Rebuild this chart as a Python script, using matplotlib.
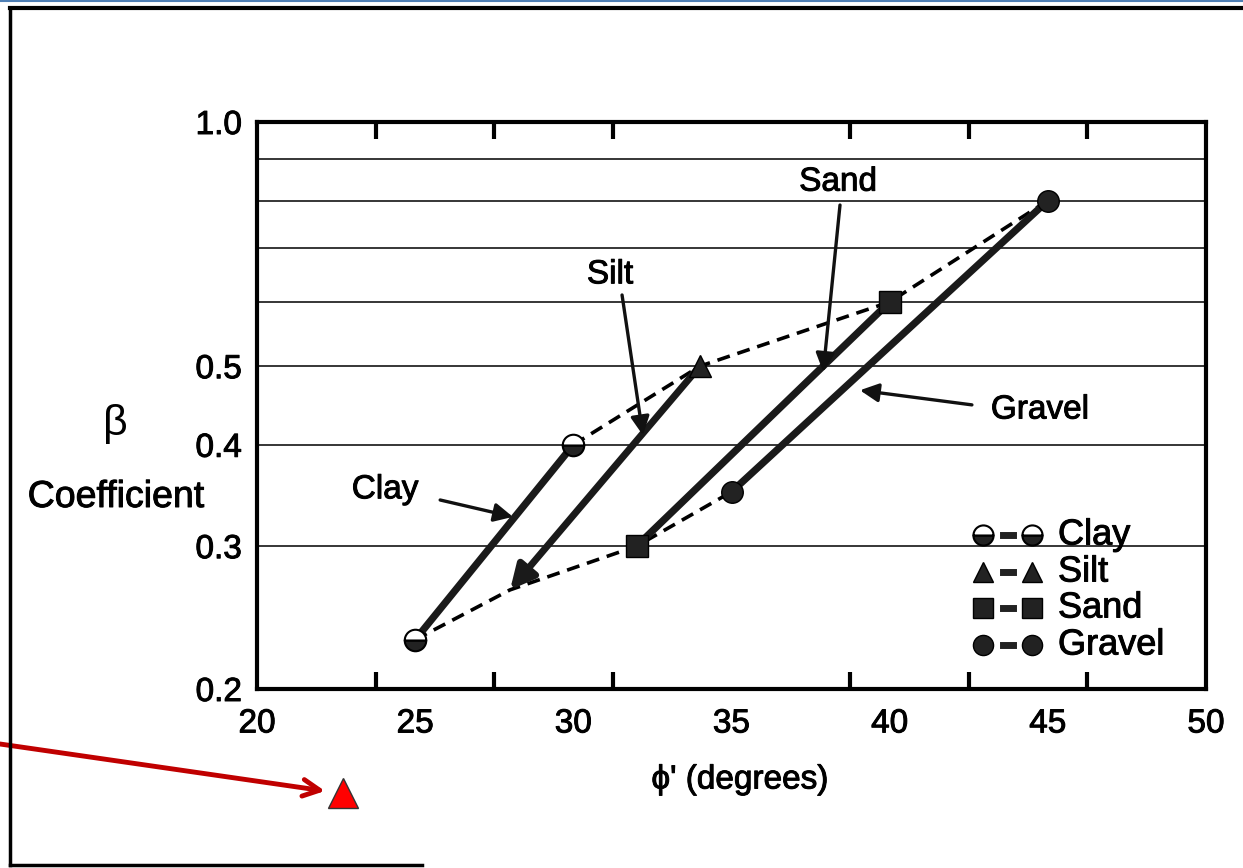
import matplotlib
matplotlib.use("Agg")
import matplotlib.pyplot as plt
from matplotlib.lines import Line2D
import matplotlib.patheffects as pe

plt.rcParams['font.family'] = ['Liberation Sans', 'DejaVu Sans']

# ---- data ----
soils = ["Clay", "Silt", "Sand", "Gravel"]
phi_low = [25, 28, 32, 35]
phi_high = [30, 34, 40, 45]
beta_low = [0.23, 0.265, 0.30, 0.35]
beta_high = [0.40, 0.50, 0.60, 0.80]
markers = ["o", "^", "s", "o"]
x_ticklabels = [20, 25, 30, 35, 40, 45, 50]
x_minor = [23.75, 27.5, 31.25, 35, 38.75, 42.5, 46.25]
y_ticks = [0.2, 0.3, 0.4, 0.5, 1.0]
y_ticklabels = ["0.2", "0.3", "0.4", "0.5", "1.0"]
grid_levels = [0.3, 0.4, 0.5, 0.6, 0.7, 0.8, 0.9]

# annotation labels: text, text position, arrow tail, arrow head
label_text = ["Clay", "Silt", "Sand", "Gravel"]
label_pos = [(24.05, 0.352), (31.16, 0.648), (38.37, 0.843), (44.75, 0.4415)]
arrow_tail = [(25.79, 0.342), (31.54, 0.612), (38.43, 0.79), (42.6, 0.448)]
arrow_head = [(28.09, 0.326), (32.2, 0.411), (37.9, 0.492), (39.06, 0.467)]

W, H = 1243, 868
bold = [pe.withStroke(linewidth=0.7, foreground='black')]

fig = plt.figure(figsize=(W / 100, H / 100), dpi=100)
ax = fig.add_axes([257 / W, 1 - 689 / H, (1206 - 257) / W, (689 - 122) / H])
ax.set_yscale('log')
ax.set_xlim(20, 50)
ax.set_ylim(0.2, 1.0)

for g in grid_levels:
    ax.axhline(g, color='black', lw=1.1, zorder=1)

# dashed envelopes
dash = (3.6, 2.2)
ax.plot(phi_low, beta_low, color='black', lw=2.6, linestyle=(0, dash), zorder=2)
ax.plot(phi_high, beta_high, color='black', lw=2.6, linestyle=(0, dash), zorder=2)

# solid lines
for i, s in enumerate(soils):
    if s == "Silt":
        ax.annotate('', xy=(phi_low[i], beta_low[i]), xytext=(phi_high[i], beta_high[i]),
                    arrowprops=dict(arrowstyle='-|>', lw=5, color='#1a1a1a',
                                    mutation_scale=36, shrinkA=0, shrinkB=0), zorder=3)
    else:
        ax.plot([phi_low[i], phi_high[i]], [beta_low[i], beta_high[i]],
                color='#1a1a1a', lw=5.2, solid_capstyle='butt', zorder=3)

# markers
for i, s in enumerate(soils):
    kw = dict(color='black', markersize=15.5, zorder=5, linestyle='none')
    if s == "Clay":
        kw.update(fillstyle='bottom', markerfacecolor='#222222', markerfacecoloralt='white',
                  markeredgecolor='black', markeredgewidth=1.5)
        ax.plot([phi_low[i], phi_high[i]], [beta_low[i], beta_high[i]], marker='o', **kw)
    elif s == "Silt":
        ax.plot([phi_high[i]], [beta_high[i]], marker='^', markerfacecolor='#222222',
                markeredgecolor='black', **kw)
    else:
        ax.plot([phi_low[i], phi_high[i]], [beta_low[i], beta_high[i]], marker=markers[i],
                markerfacecolor='#222222', markeredgecolor='black', **kw)

# text labels with arrows
for t, p, a, h in zip(label_text, label_pos, arrow_tail, arrow_head):
    ax.text(p[0], p[1], t, fontsize=24, ha='center', va='center', zorder=6,
            path_effects=bold)
    ax.annotate('', xy=h, xytext=a,
                arrowprops=dict(arrowstyle='-|>', lw=2.4, color='#111111',
                                mutation_scale=28, shrinkA=0, shrinkB=0), zorder=6)

# axes styling
for sp in ax.spines.values():
    sp.set_linewidth(3)
ax.set_yticks(y_ticks)
ax.set_yticklabels(y_ticklabels)
ax.yaxis.set_minor_locator(matplotlib.ticker.NullLocator())
ax.tick_params(axis='y', which='major', length=0, pad=11, labelsize=24)
ax.set_xticks(x_ticklabels)
ax.set_xticklabels([str(v) for v in x_ticklabels])
ax.set_xticks(x_minor, minor=True)
ax.tick_params(axis='x', which='major', length=0, pad=14, labelsize=24)
ax.tick_params(axis='x', which='minor', direction='in', length=12, width=3,
               top=True, bottom=True)
for lab in ax.get_xticklabels() + ax.get_yticklabels():
    lab.set_clip_on(False)
    lab.set_path_effects(bold)

# legend (drawn by hand, in figure pixels)
leg_rows = [535, 572, 608, 645]
for i, s in enumerate(soils):
    yy = 1 - leg_rows[i] / H
    mk = dict(marker=markers[i], markersize=14.5, markerfacecolor='#222222',
              markeredgecolor='black', linestyle='none', transform=fig.transFigure)
    if s == "Clay":
        mk.update(fillstyle='bottom', markerfacecoloralt='white', markeredgewidth=1.5)
    fig.add_artist(Line2D([983 / W, 1032 / W], [yy, yy], **mk))
    fig.add_artist(Line2D([1003 / W, 1013 / W], [yy, yy], color='#222222', lw=5,
                          transform=fig.transFigure))
    fig.text(1058 / W, yy, s, fontsize=26, ha='left', va='center', path_effects=bold)

# axis labels
fig.text(115 / W, 1 - 424 / H, "β", fontsize=31, ha='center', va='center')
fig.text(116 / W, 1 - 497 / H, "Coefficient", fontsize=27, ha='center', va='center',
         path_effects=bold)
fig.text(740 / W, 1 - 780 / H, "ϕ' (degrees)", fontsize=24, ha='center', va='center',
         path_effects=bold)

# page frame
fig.add_artist(Line2D([0, 1], [1 - 1 / H, 1 - 1 / H], transform=fig.transFigure,
                      color='#4f7fb5', lw=1.5))
fig.add_artist(Line2D([10 / W, 1], [1 - 8 / H, 1 - 8 / H], transform=fig.transFigure,
                      color='black', lw=3))
fig.add_artist(Line2D([10 / W, 10 / W], [1 - 8 / H, 1 - 865 / H], transform=fig.transFigure,
                      color='black', lw=2.5))
fig.add_artist(Line2D([10 / W, 422 / W], [1 - 865 / H, 1 - 865 / H], transform=fig.transFigure,
                      color='black', lw=2.5))

# red pointer arrow and triangle
ax.annotate('', xy=(325, H - 791), xytext=(0, H - 744), xycoords='figure pixels',
            textcoords='figure pixels',
            arrowprops=dict(arrowstyle='->', lw=3.5, color='#c00000',
                            mutation_scale=30, shrinkA=0, shrinkB=0), annotation_clip=False)
fig.add_artist(Line2D([343 / W], [1 - 793 / H], transform=fig.transFigure, marker='^',
                      markersize=22, markerfacecolor='#ff0000', markeredgecolor='#333333',
                      markeredgewidth=1, linestyle='none'))

fig.savefig("out.png", dpi=100)
